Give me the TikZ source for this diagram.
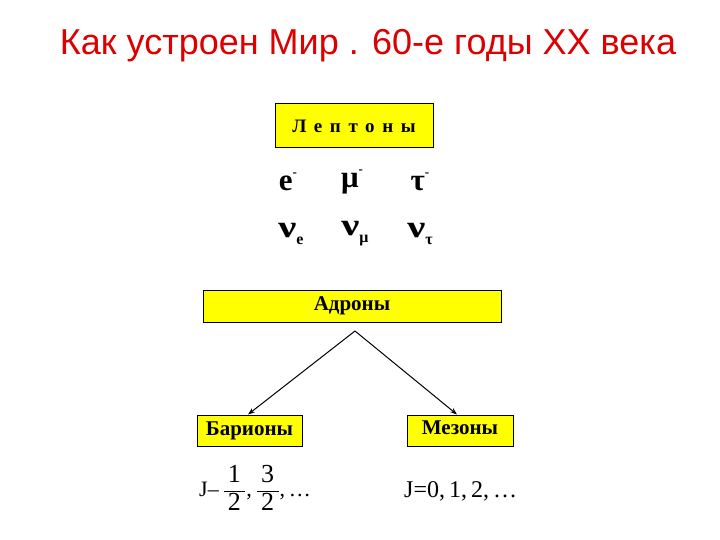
\documentclass[tikz,border=0pt]{standalone}
\usepackage{fontspec}
\usepackage{graphicx}
\setmainfont{Liberation Serif}
\newfontfamily\titlefont{Liberation Sans}
\usetikzlibrary{arrows.meta}
\definecolor{boxyellow}{RGB}{255,255,0}
\definecolor{titlered}{RGB}{220,0,0}
\newcommand{\supminus}{\raisebox{14pt}{\fontsize{13}{15}\selectfont -}}
\newcommand{\wnu}{\scalebox{1.3}[1]{ν}}
\newcommand{\subsc}[1]{\raisebox{-7pt}{\fontsize{16}{18}\selectfont #1}}
\newcommand{\bigd}[1]{\mbox{\fontsize{26}{30}\selectfont\,#1\,}}
\tikzset{
  ybox/.style={draw=black, line width=1pt, fill=boxyellow, inner sep=0pt, font=\bfseries\fontsize{21}{24}\selectfont},
  particle/.style={inner sep=0pt, font=\bfseries\fontsize{31}{35}\selectfont},
  formula/.style={inner sep=0pt, font=\fontsize{22}{26}\selectfont},
  arr/.style={line width=1pt, -{Stealth[length=7pt,width=5pt]}}
}
\begin{document}
\begin{tikzpicture}[x=1pt,y=-1pt]
\useasboundingbox (0,0) rectangle (720,540);
\node[text=titlered, inner sep=0pt, font=\titlefont\fontsize{36}{40}\selectfont] (title) at (368,46) {Как устроен Мир . 60-е годы XX века};
\node[ybox, minimum width=158pt, minimum height=44pt, font=\bfseries\fontsize{19}{22}\selectfont] (lept) at (354,126) {\addfontfeature{LetterSpace=40}Лептоны};
\node[particle] (e) at (288,182) {e\supminus};
\node[particle] (mu) at (352,182) {μ\supminus};
\node[particle] (tau) at (420,182) {τ\supminus};
\node[particle] (nue) at (291,234) {\wnu\subsc{e}};
\node[particle] (numu) at (355,234) {\wnu\subsc{μ}};
\node[particle] (nutau) at (420,234) {\wnu\subsc{τ}};
\node[ybox, minimum width=298pt, minimum height=32pt] (adr) at (352,306) {Адроны};
\coordinate (apex) at (355,331);
\node[ybox, minimum width=105pt, minimum height=31pt] (bar) at (249.5,430.5) {\raisebox{3pt}{Барионы}};
\node[ybox, minimum width=106pt, minimum height=31pt] (mez) at (460,430.5) {\raisebox{5pt}{Мезоны}};
\draw[arr] (apex) -- (bar.north -| 248,0);
\draw[arr] (apex) -- (mez.north -| 457,0);
\node[formula, anchor=west] (jb) at (199,488) {J–\,$\displaystyle\frac{\bigd{1}}{\bigd{2}}\mbox{,\,}\frac{\bigd{3}}{\bigd{2}}\mbox{,\,…}$};
\node[formula, anchor=west, font=\fontsize{24}{28}\selectfont] (jm) at (404,491) {J=0,\,1,\,2,\,…};
\end{tikzpicture}
\end{document}
